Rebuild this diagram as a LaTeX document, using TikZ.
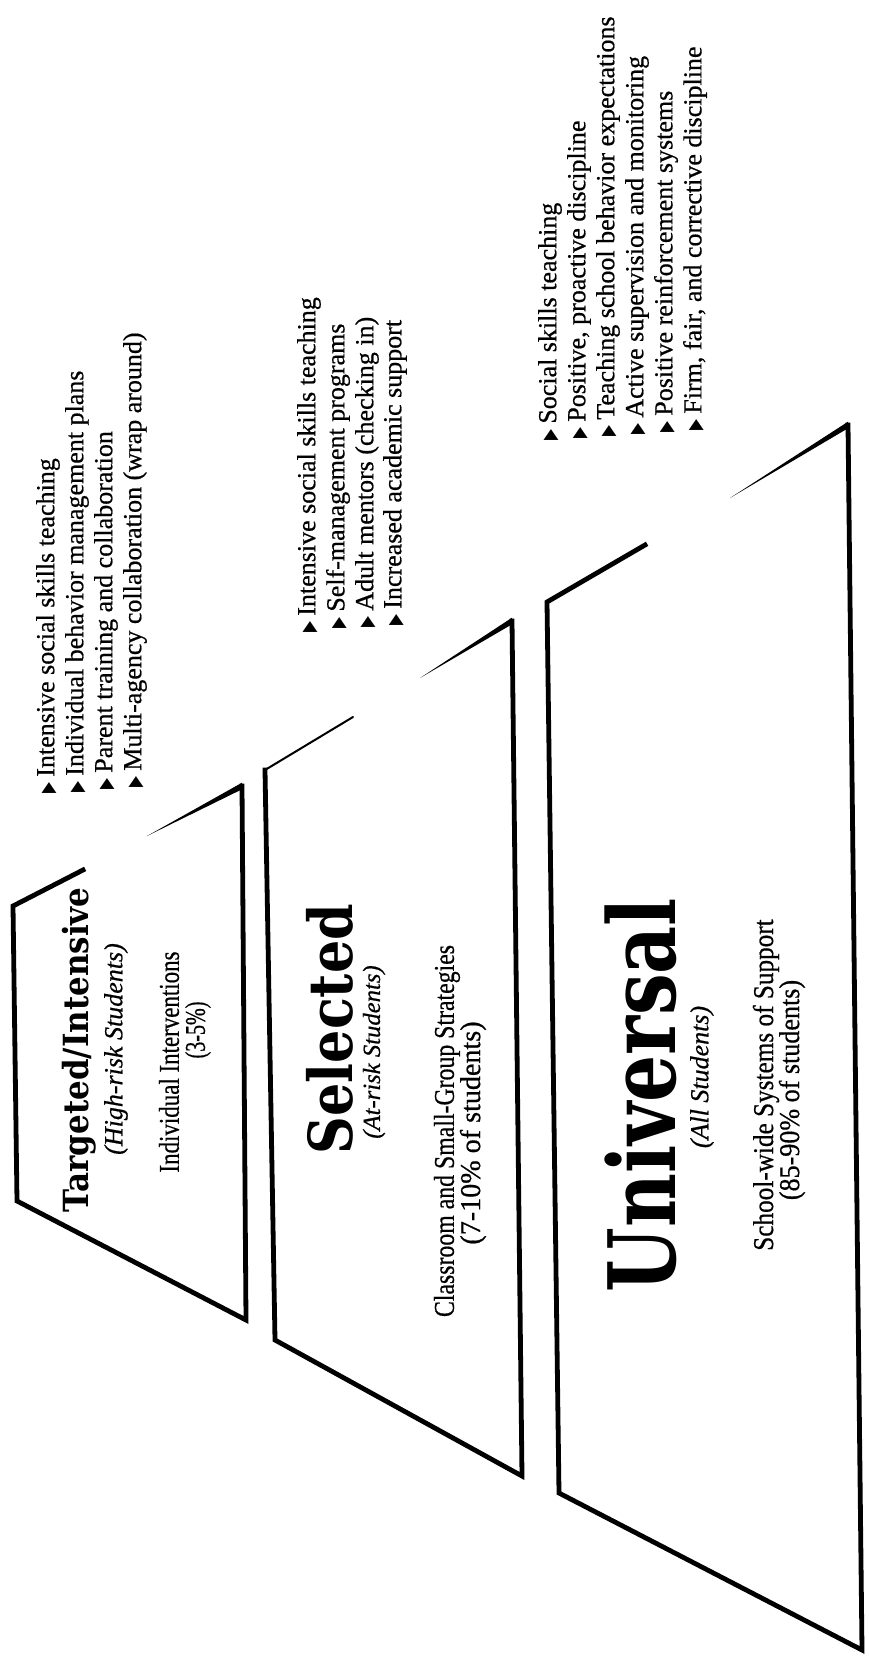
\documentclass[tikz,border=0pt]{standalone}
\usepackage{fontspec}
\setmainfont{Liberation Serif}[FakeBold=0.6]
\newfontfamily\titlefont{DejaVu Serif}
\newfontfamily\symfont{DejaVu Sans}
\usetikzlibrary{calc}
\newcommand{\bul}{{\symfont\scalebox{0.55}[0.75]{▶}}\hspace{4pt}}
\newcommand{\heavy}[3]{\resizebox*{#1}{#2}{\titlefont\bfseries #3}}
\newcommand{\sq}[2]{\scalebox{#1}[1]{#2}}
\begin{document}
\begin{tikzpicture}[x=0.75pt,y=-0.75pt,
  edge/.style={line width=3.6pt, line join=miter, line cap=rect},
  thinedge/.style={line width=1.5pt, line cap=round},
  txt/.style={rotate=90, inner sep=0pt, outer sep=0pt, anchor=center},
  item/.style={rotate=90, inner sep=0pt, outer sep=0pt, anchor=west, font=\fontsize{19.5pt}{21pt}\selectfont},
  sub/.style={txt, font=\fontsize{21.5pt}{23pt}\selectfont},
  ital/.style={txt, font=\itshape\fontsize{19.5pt}{21pt}\selectfont},
]
\useasboundingbox (0,0) rectangle (868,1659);
\fill[white] (0,0) rectangle (868,1659);

% ---------- corners ----------
\coordinate (TLa) at (13,906);  \coordinate (Ga1) at (83,870);  \coordinate (Ga2) at (147,836);
\coordinate (TRa) at (242,786); \coordinate (BRa) at (246,1320); \coordinate (BLa) at (17,1201);
\coordinate (TLb) at (265,770); \coordinate (Gb1) at (353,717); \coordinate (Gb2) at (420,678);
\coordinate (TRb) at (512,621); \coordinate (BRb) at (522,1476); \coordinate (BLb) at (275,1340);
\coordinate (TLc) at (547,602); \coordinate (Gc1) at (645,545); \coordinate (Gc2) at (730,498);
\coordinate (TRc) at (848,425); \coordinate (BRc) at (862,1650); \coordinate (BLc) at (559,1493);

% ---------- trapezoid 1 ----------
\draw[edge] (Ga1) -- (TLa) -- (BLa) -- (BRa) -- (TRa);
\fill (Ga2) -- ($(TRa)+(0,-3.3)$) -- ($(TRa)+(0,3.3)$) -- cycle;
% ---------- trapezoid 2 ----------
\draw[edge] (TLb) -- (BLb) -- (BRb) -- (TRb);
\draw[thinedge] (TLb) -- (Gb1);
\fill (Gb2) -- ($(TRb)+(0,-3.3)$) -- ($(TRb)+(0,3.3)$) -- cycle;
% ---------- trapezoid 3 ----------
\draw[edge] (Gc1) -- (TLc) -- (BLc) -- (BRc) -- (TRc);
\fill (Gc2) -- ($(TRc)+(0,-3.3)$) -- ($(TRc)+(0,3.3)$) -- cycle;

% ---------- tier 1 ----------
\node[txt] (t1) at (79,1050) {\heavy{243.75pt}{25.5pt}{Targeted/Intensive}};
\node[ital] (t1a) at (116,1049) {(High-risk Students)};
\node[sub] (t1b) at (169,1062) {\sq{0.8}{Individual Interventions}};
\node[sub] (t1c) at (198,1030) {\sq{0.7}{(3-5\%)}};
\node[item] (i11) at (48,793) {\bul Intensive social skills teaching};
\node[item] (i12) at (77,792) {\bul Individual behavior management plans};
\node[item] (i13) at (106,789) {\bul Parent training and collaboration};
\node[item] (i14) at (135,787) {\bul Multi-agency collaboration (wrap around)};

% ---------- tier 2 ----------
\node[txt] (t2) at (330,1029) {\heavy{187.5pt}{35.25pt}{Selected}};
\node[ital, font=\itshape\fontsize{18.5pt}{20pt}\selectfont] (t2a) at (374,1052) {(At-risk Students)};
\node[sub] (t2b) at (447,1131) {\sq{0.83}{Classroom and Small-Group Strategies}};
\node[sub] (t2c) at (473,1133) {\sq{0.98}{(7-10\% of students)}};
\node[item] (i21) at (309,632) {\bul Intensive social skills teaching};
\node[item] (i22) at (338,628) {\bul Self-management programs};
\node[item] (i23) at (367,627) {\bul Adult mentors (checking in)};
\node[item] (i24) at (395,625) {\bul Increased academic support};

% ---------- tier 3 ----------
\node[txt] (t3) at (641,1095) {\heavy{295.5pt}{54pt}{Universal}};
\node[ital] (t3a) at (702,1077) {(All Students)};
\node[sub] (t3b) at (766,1085) {\sq{0.88}{School-wide Systems of Support}};
\node[sub] (t3c) at (792,1090) {\sq{0.91}{(85-90\% of students)}};
\node[item] (i31) at (550,440) {\bul Social skills teaching};
\node[item] (i32) at (579,438) {\bul Positive, proactive discipline};
\node[item] (i33) at (608,436) {\bul Teaching school behavior expectations};
\node[item] (i34) at (637,434) {\bul Active supervision and monitoring};
\node[item] (i35) at (666,432) {\bul Positive reinforcement systems};
\node[item] (i36) at (695,430) {\bul Firm, fair, and corrective discipline};
\end{tikzpicture}
\end{document}
